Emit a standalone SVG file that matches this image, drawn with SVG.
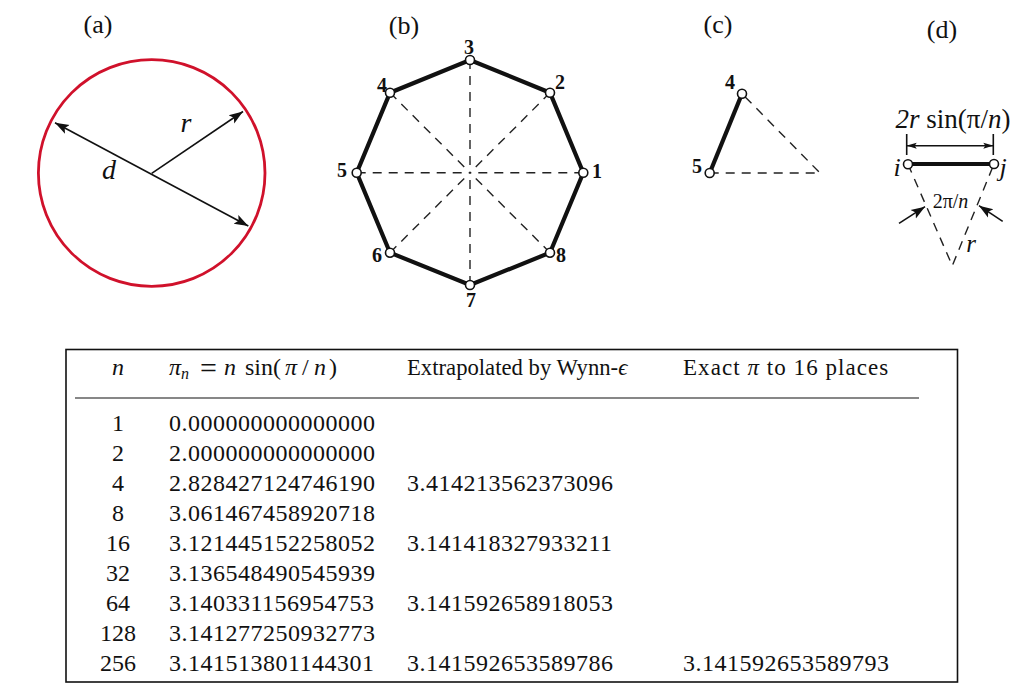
<svg xmlns="http://www.w3.org/2000/svg" width="1024" height="691" viewBox="0 0 1024 691">
<style>
text{font-family:"Liberation Serif","Times New Roman",serif;fill:#111}
.cap{font-size:26px;text-anchor:middle}
.lab{font-size:20px;font-weight:bold;text-anchor:middle}
.it{font-style:italic}
.sym{font-size:28px;font-style:italic;text-anchor:middle}
.t{font-size:24px;letter-spacing:.5px}
.c{font-size:24px;text-anchor:middle}
.thick{stroke:#111;stroke-width:4.2;fill:none;stroke-linejoin:miter}
.dash{stroke:#222;stroke-width:1.4;fill:none;stroke-dasharray:9 7}
.thin{stroke:#111;stroke-width:1.6;fill:none}
.pt{fill:#fff;stroke:#111;stroke-width:1.6}
</style>
<defs>
<marker id="ah" markerUnits="userSpaceOnUse" markerWidth="16" markerHeight="12" refX="14" refY="5" orient="auto-start-reverse" viewBox="0 0 16 10"><path d="M0 0L14 5L0 10L3 5Z" fill="#111"/></marker>
<marker id="ahs" markerUnits="userSpaceOnUse" markerWidth="10" markerHeight="8" refX="10" refY="3" orient="auto-start-reverse" viewBox="0 0 10 6"><path d="M0 0L10 3L0 6L2 3Z" fill="#111"/></marker>
</defs>
<rect width="1024" height="691" fill="#fff"/>

<g id="panel-a">
<text class="cap" x="98" y="33">(a)</text>
<circle cx="151.7" cy="173" r="113.3" fill="none" stroke="#d0112b" stroke-width="2.8"/>
<line class="thin" x1="55" y1="122.7" x2="248.3" y2="226" marker-start="url(#ah)" marker-end="url(#ah)"/>
<line class="thin" x1="151.7" y1="173.3" x2="243" y2="111.5" marker-end="url(#ah)"/>
<text class="sym" x="109" y="179">d</text>
<text class="sym" x="186" y="132">r</text>
</g>

<g id="panel-b">
<text class="cap" x="404" y="34">(b)</text>
<g id="b-connectors">
<path class="dash" d="M583.3 172.7H470M356.7 172.7H470M470 60V172.7M470 285V172.7M550 92.7L470 172.7M390 92.7L470 172.7M390 252.7L470 172.7M550 252.7L470 172.7"/>
<path class="thick" d="M583.3 172.7L550 92.7L470 60L390 92.7L356.7 172.7L390 252.7L470 285L550 252.7Z"/>
</g>
<g id="b-node-1"><circle class="pt" cx="583.3" cy="172.7" r="4.5"/><text class="lab" x="597" y="178">1</text></g>
<g id="b-node-2"><circle class="pt" cx="550" cy="92.7" r="4.5"/><text class="lab" x="560" y="89">2</text></g>
<g id="b-node-3"><circle class="pt" cx="470" cy="60" r="4.5"/><text class="lab" x="469" y="54">3</text></g>
<g id="b-node-4"><circle class="pt" cx="390" cy="92.7" r="4.5"/><text class="lab" x="382" y="92">4</text></g>
<g id="b-node-5"><circle class="pt" cx="356.7" cy="172.7" r="4.5"/><text class="lab" x="342" y="177">5</text></g>
<g id="b-node-6"><circle class="pt" cx="390" cy="252.7" r="4.5"/><text class="lab" x="377" y="262">6</text></g>
<g id="b-node-7"><circle class="pt" cx="470" cy="285" r="4.5"/><text class="lab" x="471" y="307">7</text></g>
<g id="b-node-8"><circle class="pt" cx="550" cy="252.7" r="4.5"/><text class="lab" x="561" y="262">8</text></g>
</g>

<g id="panel-c">
<text class="cap" x="718" y="33">(c)</text>
<g id="c-connectors">
<path class="dash" d="M709.7 173H820L742 93.7"/>
<path class="thick" d="M742 93.7L709.7 173"/>
</g>
<g id="c-node-4"><circle class="pt" cx="742" cy="93.7" r="4.5"/><text class="lab" x="730" y="89">4</text></g>
<g id="c-node-5"><circle class="pt" cx="709.7" cy="173" r="4.5"/><text class="lab" x="697" y="173">5</text></g>
</g>

<g id="panel-d">
<text class="cap" x="942" y="38">(d)</text>
<text x="953" y="128" font-size="27" text-anchor="middle"><tspan class="it">2r</tspan> sin(π/<tspan class="it">n</tspan>)</text>
<g id="d-connectors">
<path class="dash" d="M908 164.3L952.3 265.7L994 164"/>
<path class="thin" d="M906.7 134V155M993.3 134V155"/>
<line class="thin" x1="906.7" y1="145.7" x2="993.3" y2="145.7" marker-start="url(#ahs)" marker-end="url(#ahs)"/>
<path class="thick" d="M908 164H994"/>
<line class="thin" x1="899" y1="223.3" x2="925" y2="206.7" marker-end="url(#ah)"/>
<line class="thin" x1="1002.7" y1="221.3" x2="979" y2="205.7" marker-end="url(#ah)"/>
</g>
<g id="d-node-i"><circle class="pt" cx="908" cy="164.3" r="4.5"/><text class="sym" x="897" y="176" style="font-size:26px">i</text></g>
<g id="d-node-j"><circle class="pt" cx="994" cy="164" r="4.5"/><text class="sym" x="1003" y="176" style="font-size:26px">j</text></g>
<text x="950.5" y="208" font-size="20" text-anchor="middle">2π/<tspan class="it">n</tspan></text>
<text class="sym" x="971" y="252" style="font-size:25px">r</text>
</g>

<g id="table">
<rect x="66" y="349.5" width="891.5" height="332.5" fill="none" stroke="#111" stroke-width="1.6"/>
<line x1="75" y1="398" x2="919" y2="398" stroke="#111" stroke-width="1.2"/>
<text class="c it" x="118" y="375">n</text>
<text x="169" y="375" font-size="24"><tspan class="it">π</tspan><tspan class="it" font-size="16" dy="4">n</tspan><tspan x="200" dy="-1.5" font-size="30">=</tspan><tspan x="224" dy="-2.5" class="it">n</tspan><tspan x="245">sin(</tspan><tspan x="285" class="it">π</tspan><tspan x="302">/</tspan><tspan x="314" class="it">n</tspan><tspan x="329">)</tspan></text>
<text x="407" y="375" font-size="22.7">Extrapolated by Wynn-<tspan class="it">ϵ</tspan></text>
<text x="683" y="375" font-size="23" letter-spacing="1.05">Exact <tspan class="it">π</tspan> to 16 places</text>
<text class="c" x="118" y="431">1</text>
<text class="c" x="118" y="461">2</text>
<text class="c" x="118" y="491">4</text>
<text class="c" x="118" y="521">8</text>
<text class="c" x="118" y="551">16</text>
<text class="c" x="118" y="581">32</text>
<text class="c" x="118" y="611">64</text>
<text class="c" x="118" y="641">128</text>
<text class="c" x="118" y="671">256</text>
<text class="t" x="169" y="431">0.000000000000000</text>
<text class="t" x="169" y="461">2.000000000000000</text>
<text class="t" x="169" y="491">2.828427124746190</text>
<text class="t" x="169" y="521">3.061467458920718</text>
<text class="t" x="169" y="551">3.121445152258052</text>
<text class="t" x="169" y="581">3.136548490545939</text>
<text class="t" x="169" y="611">3.140331156954753</text>
<text class="t" x="169" y="641">3.141277250932773</text>
<text class="t" x="169" y="671">3.141513801144301</text>
<text class="t" x="407" y="491">3.414213562373096</text>
<text class="t" x="407" y="551">3.141418327933211</text>
<text class="t" x="407" y="611">3.141592658918053</text>
<text class="t" x="407" y="671">3.141592653589786</text>
<text class="t" x="683" y="671">3.141592653589793</text>
</g>
</svg>
